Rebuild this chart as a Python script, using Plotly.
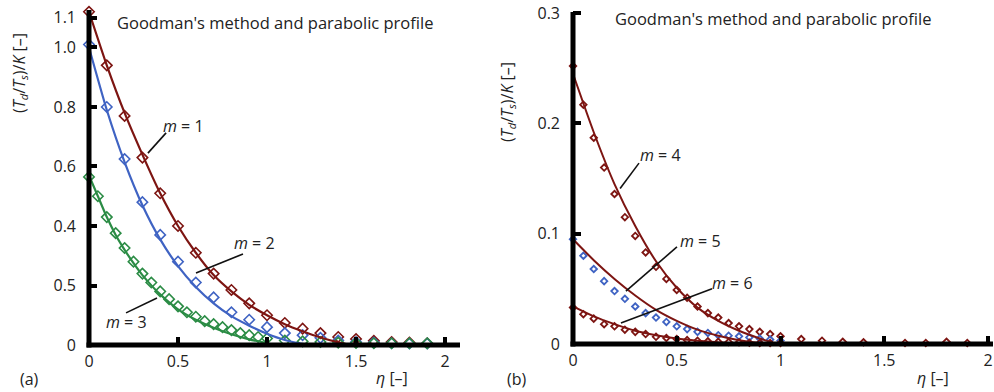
import plotly.graph_objects as go

# ---------------- data ----------------
# Panel (a)
eta_a_step10 = [0.0, 0.1, 0.2, 0.3, 0.4, 0.5, 0.6, 0.7, 0.8, 0.9,
                1.0, 1.1, 1.2, 1.3, 1.4, 1.5, 1.6, 1.7, 1.8, 1.9]
m1_pts = [1.12, 0.94, 0.77, 0.63, 0.51, 0.40, 0.31, 0.24, 0.185, 0.14,
          0.10, 0.074, 0.055, 0.04, 0.027, 0.02, 0.014, 0.01, 0.008, 0.006]
m2_pts = [1.01, 0.80, 0.625, 0.48, 0.37, 0.28, 0.21, 0.16, 0.11, 0.085,
          0.06, 0.04, 0.033, 0.024, 0.015, 0.01, 0.008, 0.006, 0.005, 0.005]
eta_m3_pts = [0.0, 0.05, 0.1, 0.15, 0.2, 0.25, 0.3, 0.35, 0.4, 0.45, 0.5,
              0.55, 0.6, 0.65, 0.7, 0.75, 0.8, 0.85, 0.9, 0.95, 1.0,
              1.1, 1.2, 1.3, 1.4, 1.5, 1.6, 1.7, 1.8, 1.9]
m3_pts = [0.565, 0.50, 0.43, 0.376, 0.326, 0.28, 0.24, 0.21, 0.18, 0.154, 0.13,
          0.11, 0.095, 0.08, 0.07, 0.06, 0.05, 0.04, 0.033, 0.027, 0.022,
          0.015, 0.012, 0.01, 0.008, 0.007, 0.006, 0.006, 0.006, 0.006]

eta_m1_fit = [0.0, 0.1, 0.2, 0.3, 0.4, 0.5, 0.6, 0.7, 0.8, 0.9, 1.0, 1.1, 1.2, 1.3, 1.4, 1.47]
m1_fit = [1.12, 0.94, 0.78, 0.64, 0.51, 0.40, 0.31, 0.235, 0.18, 0.135, 0.10, 0.07, 0.046, 0.025, 0.009, 0.0]
eta_m2_fit = [0.0, 0.1, 0.2, 0.3, 0.4, 0.5, 0.6, 0.7, 0.8, 0.9, 1.0, 1.1, 1.2, 1.25]
m2_fit = [1.0, 0.79, 0.615, 0.47, 0.355, 0.265, 0.195, 0.14, 0.097, 0.065, 0.038, 0.017, 0.004, 0.0]
eta_m3_fit = [0.0, 0.05, 0.1, 0.15, 0.2, 0.25, 0.3, 0.4, 0.5, 0.6, 0.7, 0.8, 0.9, 1.0, 1.05]
m3_fit = [0.57, 0.50, 0.43, 0.37, 0.32, 0.275, 0.235, 0.17, 0.12, 0.085, 0.058, 0.036, 0.019, 0.006, 0.0]

# Panel (b)
eta_b_pts = [0.0, 0.05, 0.1, 0.15, 0.2, 0.25, 0.3, 0.35, 0.4, 0.45, 0.5,
             0.55, 0.6, 0.65, 0.7, 0.75, 0.8, 0.85, 0.9, 0.95, 1.0]
m4_pts = [0.252, 0.217, 0.187, 0.16, 0.136, 0.115, 0.098, 0.083, 0.07, 0.059, 0.049,
          0.042, 0.034, 0.028, 0.024, 0.019, 0.016, 0.0135, 0.011, 0.009, 0.007]
m5_pts = [0.095, 0.08, 0.068, 0.057, 0.048, 0.041, 0.034, 0.028, 0.024, 0.02, 0.016,
          0.0135, 0.011, 0.01, 0.008, 0.0075, 0.007, 0.006, 0.005, 0.004, 0.003]
m6_pts = [0.033, 0.027, 0.023, 0.018, 0.016, 0.013, 0.011, 0.009, 0.0065, 0.0055, 0.0045,
          0.0035, 0.003, 0.0025, 0.002, 0.0018, 0.0015, 0.0012, 0.001, 0.001, 0.001]
eta_b_tail = [1.1, 1.2, 1.3, 1.4, 1.6, 1.7, 1.8, 1.9]
tail_pts = [0.0045, 0.003, 0.002, 0.0015, 0.001, 0.001, 0.002, 0.001]

eta_b_fit = [0.0, 0.1, 0.2, 0.3, 0.4, 0.5, 0.6, 0.7, 0.8, 0.9, 0.98]
m4_fit = [0.245, 0.192, 0.145, 0.107, 0.075, 0.051, 0.033, 0.021, 0.012, 0.005, 0.0]
m5_fit = [0.095, 0.076, 0.059, 0.044, 0.031, 0.021, 0.013, 0.0075, 0.0035, 0.001, 0.0]
m6_fit = [0.034, 0.025, 0.018, 0.012, 0.008, 0.005, 0.003, 0.0015, 0.0006, 0.0002, 0.0]

a_yticks = [0, 0.2, 0.4, 0.6, 0.8, 1.0, 1.1]
a_yticktext = ["0", "0.5", "0.4", "0.6", "0.8", "1.0", "1.1"]
b_yticks = [0, 0.1, 0.2, 0.3]
b_yticktext = ["0", "0.1", "0.2", "0.3"]
xticks = [0, 0.5, 1, 1.5, 2]
xticktext = ["0", "0.5", "1", "1.5", "2"]

title_text = "Goodman's method and parabolic profile"
ytitle = "(<i>T</i><sub><i>d</i></sub>/<i>T</i><sub><i>s</i></sub>)/<i>K</i> [–]"
xtitle = "<i>η</i> [–]"

RED = "#7d1512"
BLUE = "#3f63c3"
GREEN = "#2b8c45"
FONT = "Open Sans"
W, H = 994, 392


def px(x):
    return x / W


def py(y):
    return 1 - y / H


fig = go.Figure()

# panel a markers + fits
for xs, ys, c in [(eta_a_step10, m1_pts, RED), (eta_a_step10, m2_pts, BLUE), (eta_m3_pts, m3_pts, GREEN)]:
    fig.add_trace(go.Scatter(x=xs, y=ys, mode="markers", xaxis="x", yaxis="y",
                             marker=dict(symbol="diamond-open", size=8, color=c, line=dict(width=1.6, color=c)),
                             cliponaxis=False))
for xs, ys, c in [(eta_m1_fit, m1_fit, RED), (eta_m2_fit, m2_fit, BLUE), (eta_m3_fit, m3_fit, GREEN)]:
    fig.add_trace(go.Scatter(x=xs, y=ys, mode="lines", xaxis="x", yaxis="y",
                             line=dict(color=c, width=2.2, shape="spline", smoothing=0.6)))

# panel b markers + fits
for xs, ys, c in [(eta_b_pts, m4_pts, RED), (eta_b_pts, m5_pts, BLUE), (eta_b_pts, m6_pts, RED),
                  (eta_b_tail, tail_pts, RED)]:
    fig.add_trace(go.Scatter(x=xs, y=ys, mode="markers", xaxis="x2", yaxis="y2",
                             marker=dict(symbol="diamond-open", size=5, color=c, line=dict(width=1.8, color=c)),
                             cliponaxis=False))
for ys in [m4_fit, m5_fit, m6_fit]:
    fig.add_trace(go.Scatter(x=eta_b_fit, y=ys, mode="lines", xaxis="x2", yaxis="y2",
                             line=dict(color=RED, width=2, shape="spline", smoothing=0.6)))

tickfont = dict(family=FONT, size=16, color="#222")
axcommon = dict(showgrid=False, zeroline=False, showline=False, ticks="inside", automargin=False,
                ticklen=8, tickwidth=4, tickcolor="black", tickfont=tickfont)

fig.update_layout(
    width=W, height=H, margin=dict(l=0, r=0, t=0, b=0, autoexpand=False),
    paper_bgcolor="white", plot_bgcolor="white", showlegend=False,
    xaxis=dict(domain=[px(89), px(460)], range=[0, 2.084], anchor="y",
               tickvals=xticks, ticktext=xticktext, ticklabelstandoff=5, **axcommon),
    yaxis=dict(domain=[py(345), py(10)], range=[0, 1.126], anchor="x",
               tickvals=a_yticks, ticktext=a_yticktext, ticklabelstandoff=12, **axcommon),
    xaxis2=dict(domain=[px(573), px(993)], range=[0, 2.024], anchor="y2",
                tickvals=xticks, ticktext=xticktext, ticklabelstandoff=5, **axcommon),
    yaxis2=dict(domain=[py(344), py(12)], range=[0, 0.301], anchor="x2",
                tickvals=b_yticks, ticktext=b_yticktext, ticklabelstandoff=12, **axcommon),
)

# axis lines (thick, drawn above data)
shapes = []
for (x0, x1, ybase, ytop) in [(89, 460, 345, 10), (573, 993, 344, 12)]:
    shapes.append(dict(type="line", xref="paper", yref="paper", x0=px(x0), x1=px(x0),
                       y0=py(ybase + 2.5), y1=py(ytop), line=dict(color="black", width=5), layer="above"))
    shapes.append(dict(type="line", xref="paper", yref="paper", x0=px(x0 - 2.5), x1=px(x1),
                       y0=py(ybase), y1=py(ybase), line=dict(color="black", width=5), layer="above"))

# leader lines (data coordinates)
leaders = [("x", "y", 0.433, 0.713, 0.331, 0.645),
           ("x", "y", 0.865, 0.306, 0.601, 0.242),
           ("x", "y", 0.208, 0.108, 0.382, 0.158),
           ("x2", "y2", 0.318, 0.164, 0.227, 0.141),
           ("x2", "y2", 0.501, 0.088, 0.255, 0.048),
           ("x2", "y2", 0.670, 0.050, 0.231, 0.019)]
for xr, yr, x0, y0, x1, y1 in leaders:
    shapes.append(dict(type="line", xref=xr, yref=yr, x0=x0, y0=y0, x1=x1, y1=y1,
                       line=dict(color="#111", width=1.6)))
fig.update_layout(shapes=shapes)

labfont = dict(family=FONT, size=16, color="#222")
anns = []
for xr, yr, x, y, t in [("x", "y", 0.528, 0.736, "<i>m</i> = 1"),
                        ("x", "y", 0.927, 0.343, "<i>m</i> = 2"),
                        ("x", "y", 0.208, 0.077, "<i>m</i> = 3"),
                        ("x2", "y2", 0.424, 0.171, "<i>m</i> = 4"),
                        ("x2", "y2", 0.612, 0.093, "<i>m</i> = 5"),
                        ("x2", "y2", 0.771, 0.055, "<i>m</i> = 6")]:
    anns.append(dict(xref=xr, yref=yr, x=x, y=y, text=t, showarrow=False, font=labfont))

for x, y, t, ang in [(275, 23, title_text, 0), (773, 18, title_text, 0),
                     (19, 73, ytitle, -90), (507, 102, ytitle, -90),
                     (392, 378, xtitle, 0), (933, 378, xtitle, 0),
                     (29, 379, "(a)", 0), (517, 379, "(b)", 0)]:
    anns.append(dict(xref="paper", yref="paper", x=px(x), y=py(y), text=t, showarrow=False,
                     textangle=ang, xanchor="center", yanchor="middle",
                     font=dict(family=FONT, size=16.5 if t == title_text else 16, color="#222")))
fig.update_layout(annotations=anns)

fig.write_html("out.html", config={"displayModeBar": False},
               post_script="document.body.style.margin='0';document.body.style.overflow='hidden';")
